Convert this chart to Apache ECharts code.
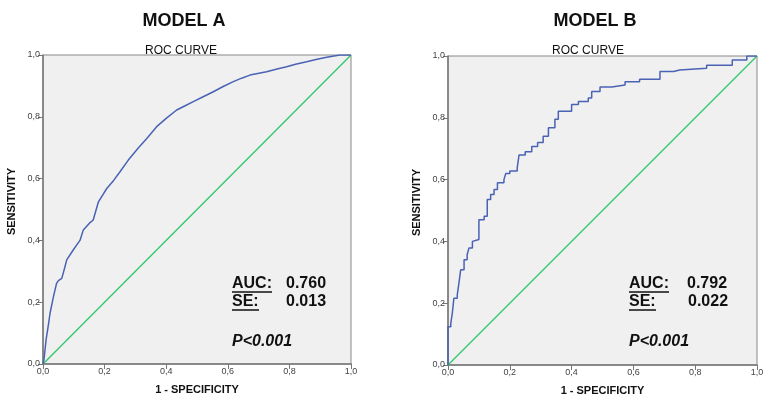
<!DOCTYPE html>
<html>
<head>
<meta charset="utf-8">
<script src="https://cdn.jsdelivr.net/npm/echarts@6/dist/echarts.min.js"></script>
<style>
  html, body { margin: 0; padding: 0; background: #fff; }
  #chart { width: 770px; height: 405px; }
</style>
</head>
<body>
<div id="chart"></div>
<script>
// ROC points: [1 - specificity, sensitivity]
const rocA = [
  [0, 0], [0.003, 0.013], [0.01, 0.078], [0.018, 0.13], [0.023, 0.165], [0.034, 0.218],
  [0.044, 0.261], [0.05, 0.27], [0.061, 0.277], [0.07, 0.31], [0.077, 0.337], [0.098, 0.369],
  [0.12, 0.4], [0.131, 0.434], [0.15, 0.455], [0.163, 0.466], [0.18, 0.525], [0.207, 0.568],
  [0.23, 0.595], [0.25, 0.622], [0.277, 0.66], [0.31, 0.7], [0.337, 0.73], [0.369, 0.768],
  [0.4, 0.795], [0.434, 0.822], [0.46, 0.835], [0.488, 0.849], [0.52, 0.865], [0.553, 0.881],
  [0.585, 0.898], [0.618, 0.914], [0.645, 0.925], [0.672, 0.935], [0.726, 0.946], [0.76, 0.955],
  [0.791, 0.962], [0.82, 0.97], [0.856, 0.978], [0.89, 0.986], [0.921, 0.993], [0.964, 1], [1, 1]
]
const rocB = [
  [0, 0], [0, 0.124], [0.009, 0.135], [0.014, 0.168], [0.019, 0.216], [0.03, 0.227],
  [0.036, 0.27], [0.041, 0.308], [0.052, 0.341], [0.062, 0.357], [0.068, 0.379], [0.079, 0.4],
  [0.085, 0.406], [0.1, 0.47], [0.117, 0.481], [0.127, 0.536], [0.138, 0.552], [0.149, 0.568],
  [0.16, 0.59], [0.181, 0.6], [0.187, 0.62], [0.2, 0.628], [0.224, 0.638], [0.23, 0.68],
  [0.25, 0.69], [0.271, 0.707], [0.29, 0.72], [0.308, 0.74], [0.325, 0.768], [0.346, 0.795],
  [0.357, 0.821], [0.4, 0.843], [0.422, 0.853], [0.454, 0.864], [0.465, 0.885], [0.492, 0.9],
  [0.53, 0.906], [0.573, 0.917], [0.62, 0.925], [0.686, 0.95], [0.73, 0.955], [0.75, 0.96],
  [0.837, 0.97], [0.92, 0.987], [0.967, 1], [1, 1]
]
const diagonal = [[0, 0], [1, 1]]
const modelNames = ['MODEL A', 'MODEL B']
const aucValues = ['0.760', '0.792']
const seValues = ['0.013', '0.022']
const pText = 'P<0.001'

const chart = echarts.init(document.getElementById('chart'))

const font = '"Liberation Sans", Arial, sans-serif'
const grids = [
  { left: 43, top: 55, width: 308, height: 309 },
  { left: 448, top: 56, width: 309, height: 309 }
]
// title centres measured on the picture (not the grid centres)
const modelTitleX = [179, 590]
const rocTitleX = [176, 583]

function axisCommon(name) {
  return {
    type: 'value',
    min: 0,
    max: 1,
    interval: 0.2,
    name: name,
    nameLocation: 'middle',
    nameTextStyle: { fontFamily: font, fontSize: 11, fontWeight: 'bold', color: '#111' },
    axisLine: { show: true, lineStyle: { color: '#777', width: 1.5 } },
    axisTick: { show: true, length: 5, lineStyle: { color: '#777' } },
    axisLabel: {
      fontFamily: font, fontSize: 9, color: '#444', margin: 3,
      formatter: v => v.toFixed(1).replace('.', ',')
    },
    splitLine: { show: false }
  }
}

const xAxes = [0, 1].map(i => Object.assign(axisCommon('1 - SPECIFICITY'), { gridIndex: i, nameGap: 20 }))
const yAxes = [0, 1].map(i => {
  const a = Object.assign(axisCommon('SENSITIVITY'), { gridIndex: i, nameGap: 26 })
  a.nameTextStyle = Object.assign({}, a.nameTextStyle, { padding: [0, 0, 0, 16] })
  return a
})

const titles = []
const graphics = []
grids.forEach((g, i) => {
  titles.push({
    text: modelNames[i], left: modelTitleX[i], top: 7, textAlign: 'center',
    textStyle: { fontFamily: font, fontSize: 18, fontWeight: 'bold', color: '#111' }
  })
  titles.push({
    text: 'ROC CURVE', left: rocTitleX[i], top: 40, textAlign: 'center',
    textStyle: { fontFamily: font, fontSize: 12, fontWeight: 'normal', color: '#111' }
  })
  const tx = g.left + 189 - (i === 0 ? 0 : 8)
  const vx = tx + 54 + (i === 0 ? 0 : 4)
  const st = { fontFamily: font, fontSize: 16, fontWeight: 'bold', fill: '#111' }
  graphics.push(
    { type: 'text', left: tx, top: 276, style: Object.assign({ text: 'AUC:' }, st) },
    { type: 'text', left: vx, top: 276, style: Object.assign({ text: aucValues[i] }, st) },
    { type: 'text', left: tx, top: 294, style: Object.assign({ text: 'SE:' }, st) },
    { type: 'text', left: vx + (i === 0 ? 0 : 1), top: 294, style: Object.assign({ text: seValues[i] }, st) },
    { type: 'text', left: tx, top: 334, style: Object.assign({ text: pText }, st, { fontStyle: 'italic' }) },
    { type: 'line', shape: { x1: tx, y1: 292, x2: tx + 40, y2: 292 }, style: { stroke: '#111', lineWidth: 1.5 } },
    { type: 'line', shape: { x1: tx, y1: 310, x2: tx + 27, y2: 310 }, style: { stroke: '#111', lineWidth: 1.5 } }
  )
})

const option = {
  animation: false,
  backgroundColor: '#fff',
  title: titles,
  grid: grids.map(g => Object.assign({ show: true, backgroundColor: '#f0f0f0', borderColor: '#888', borderWidth: 1 }, g)),
  xAxis: xAxes,
  yAxis: yAxes,
  graphic: graphics,
  series: [
    { type: 'line', xAxisIndex: 0, yAxisIndex: 0, data: diagonal, symbol: 'none', lineStyle: { color: '#2ec76b', width: 1.3 } },
    { type: 'line', xAxisIndex: 0, yAxisIndex: 0, data: rocA, symbol: 'none', lineStyle: { color: '#4a62b4', width: 1.5 } },
    { type: 'line', xAxisIndex: 1, yAxisIndex: 1, data: diagonal, symbol: 'none', lineStyle: { color: '#2ec76b', width: 1.3 } },
    { type: 'line', xAxisIndex: 1, yAxisIndex: 1, data: rocB, step: 'end', symbol: 'none', lineStyle: { color: '#4a62b4', width: 1.5 } }
  ]
}

chart.setOption(option)
</script>
</body>
</html>
